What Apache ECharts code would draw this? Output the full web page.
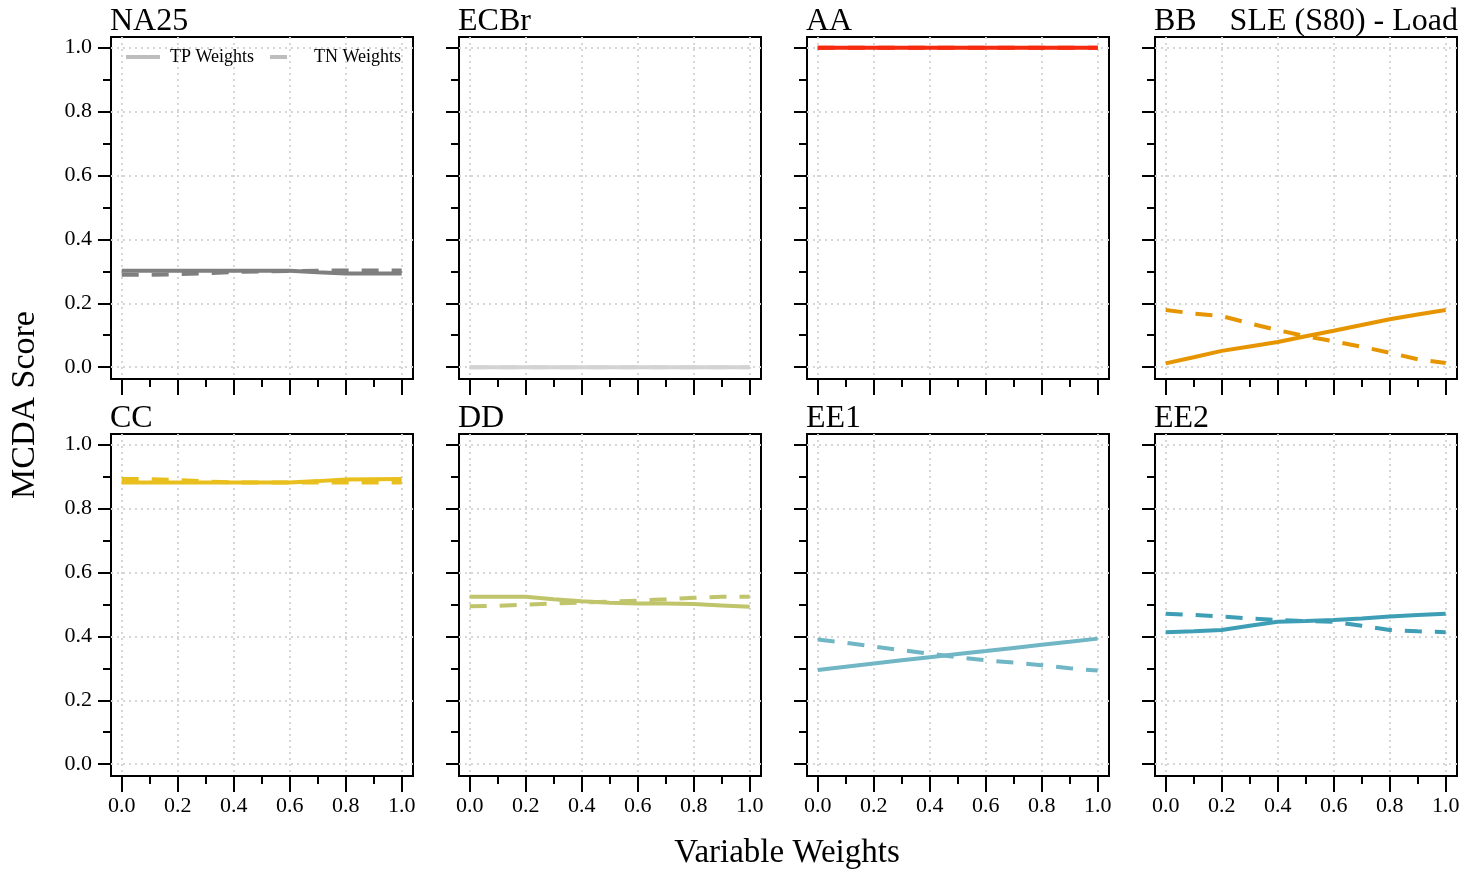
<!DOCTYPE html>
<html><head><meta charset="utf-8">
<script src="https://cdn.jsdelivr.net/npm/echarts@6/dist/echarts.min.js"></script>
<style>html,body{margin:0;padding:0;background:#fff}#chart{width:1470px;height:872px}</style>
</head><body><div id="chart"></div>
<script>
// ---- data ----
const weights = [0, 0.1, 0.2, 0.3, 0.4, 0.5, 0.6, 0.7, 0.8, 0.9, 1.0];
const majorTicks = [0, 0.2, 0.4, 0.6, 0.8, 1.0];
const minorTicks = [0.1, 0.3, 0.5, 0.7, 0.9];
const panelNames = ['NA25', 'ECBr', 'AA', 'BB', 'CC', 'DD', 'EE1', 'EE2'];
const chartTitle = 'SLE (S80) - Load';
const seriesNames = ['TP Weights', 'TN Weights'];

const na25TP = [0.302, 0.302, 0.302, 0.302, 0.302, 0.302, 0.302, 0.297, 0.293, 0.293, 0.293];
const na25TN = [0.289, 0.289, 0.291, 0.294, 0.298, 0.300, 0.301, 0.302, 0.303, 0.303, 0.303];
const ecbrTP = [0, 0, 0, 0, 0, 0, 0, 0, 0, 0, 0];
const ecbrTN = [0, 0, 0, 0, 0, 0, 0, 0, 0, 0, 0];
const aaTP = [1, 1, 1, 1, 1, 1, 1, 1, 1, 1, 1];
const aaTN = [1, 1, 1, 1, 1, 1, 1, 1, 1, 1, 1];
const bbTP = [0.012, 0.031, 0.051, 0.065, 0.079, 0.097, 0.114, 0.132, 0.150, 0.165, 0.179];
const bbTN = [0.179, 0.168, 0.160, 0.137, 0.116, 0.097, 0.081, 0.064, 0.045, 0.025, 0.013];
const ccTP = [0.882, 0.882, 0.882, 0.882, 0.882, 0.882, 0.882, 0.886, 0.891, 0.892, 0.893];
const ccTN = [0.893, 0.892, 0.889, 0.885, 0.882, 0.882, 0.882, 0.882, 0.882, 0.882, 0.882];
const ddTP = [0.524, 0.524, 0.524, 0.516, 0.510, 0.505, 0.503, 0.503, 0.501, 0.497, 0.493];
const ddTN = [0.494, 0.496, 0.499, 0.503, 0.506, 0.509, 0.512, 0.516, 0.521, 0.524, 0.524];
const ee1TP = [0.295, 0.305, 0.315, 0.325, 0.335, 0.345, 0.354, 0.364, 0.374, 0.383, 0.393];
const ee1TN = [0.390, 0.380, 0.368, 0.357, 0.346, 0.335, 0.325, 0.318, 0.310, 0.300, 0.293];
const ee2TP = [0.413, 0.416, 0.420, 0.433, 0.446, 0.448, 0.451, 0.456, 0.462, 0.467, 0.471];
const ee2TN = [0.471, 0.467, 0.462, 0.456, 0.451, 0.448, 0.446, 0.433, 0.420, 0.416, 0.413];

const tpValues = [na25TP, ecbrTP, aaTP, bbTP, ccTP, ddTP, ee1TP, ee2TP];
const tnValues = [na25TN, ecbrTN, aaTN, bbTN, ccTN, ddTN, ee1TN, ee2TN];
const panelColors = ['#7f7f7f', '#d3d3d3', '#f52a0f', '#e69500', '#e8bf1c', '#c0c46a', '#71b6c5', '#3d9eb6'];

// ---- layout ----
const FONT = '"Liberation Serif", "DejaVu Serif", serif';
const colLefts = [111, 459, 807, 1155];
const rowTops = [37, 434];
const panelW = 302, panelH = 342;
const xMin = -0.0382, xMax = 1.0404;
const yMin = -0.037, yMax = 1.0335;
const dash = [17, 13];

const grids = [], xAxes = [], yAxes = [], series = [], titles = [];
for (let i = 0; i < 8; i++) {
  const r = Math.floor(i / 4), c = i % 4;
  grids.push({left: colLefts[c], top: rowTops[r], width: panelW, height: panelH,
    show: true, borderColor: '#000', borderWidth: 2, backgroundColor: '#fff'});
  titles.push({text: panelNames[i], left: colLefts[c] - 1, top: rowTops[r] - 31, padding: 0,
    textStyle: {fontSize: 32, fontFamily: FONT, fontWeight: 'normal', color: '#000'}});
}
for (let i = 0; i < 8; i++) {
  const r = Math.floor(i / 4), c = i % 4;
  grids.push({left: colLefts[c], top: rowTops[r], width: panelW, height: panelH, show: false});
}
for (let i = 0; i < 8; i++) {
  const r = Math.floor(i / 4), c = i % 4;
  xAxes.push({gridIndex: i, type: 'value', min: xMin, max: xMax, position: 'bottom',
    axisLine: {show: false, onZero: false},
    axisTick: {show: true, customValues: majorTicks, length: 16, lineStyle: {color: '#000', width: 2}},
    axisLabel: {show: r === 1, customValues: majorTicks, formatter: v => v.toFixed(1), margin: 19,
      fontSize: 22, fontFamily: FONT, color: '#000'},
    splitLine: {show: true, lineStyle: {color: '#d6d6d6', width: 2, type: [2, 4]}}});
  yAxes.push({gridIndex: i, type: 'value', min: yMin, max: yMax, position: 'left',
    axisLine: {show: false, onZero: false},
    axisTick: {show: true, customValues: majorTicks, length: 13, lineStyle: {color: '#000', width: 2}},
    axisLabel: {show: c === 0, customValues: majorTicks, formatter: v => v.toFixed(1), margin: 19,
      fontSize: 22, fontFamily: FONT, color: '#000'},
    splitLine: {show: true, lineStyle: {color: '#d6d6d6', width: 2, type: [2, 4]}}});
}
for (let i = 0; i < 8; i++) {
  xAxes.push({gridIndex: 8 + i, type: 'value', min: xMin, max: xMax, position: 'bottom',
    axisLine: {show: false, onZero: false},
    axisTick: {show: true, customValues: minorTicks, length: 8, lineStyle: {color: '#000', width: 2}},
    axisLabel: {show: false}, splitLine: {show: false}});
  yAxes.push({gridIndex: 8 + i, type: 'value', min: yMin, max: yMax, position: 'left',
    axisLine: {show: false, onZero: false},
    axisTick: {show: true, customValues: minorTicks, length: 8, lineStyle: {color: '#000', width: 2}},
    axisLabel: {show: false}, splitLine: {show: false}});
}
for (let i = 0; i < 8; i++) {
  const col = panelColors[i];
  series.push({name: seriesNames[0], type: 'line', xAxisIndex: i, yAxisIndex: i,
    data: weights.map((w, k) => [w, tpValues[i][k]]), symbol: 'none', silent: true,
    lineStyle: {color: col, width: 4, type: 'solid'}, itemStyle: {color: col}});
  series.push({name: seriesNames[1], type: 'line', xAxisIndex: i, yAxisIndex: i,
    data: weights.map((w, k) => [w, tnValues[i][k]]), symbol: 'none', silent: true,
    lineStyle: {color: col, width: 4, type: dash}, itemStyle: {color: col}});
}
titles.push({text: chartTitle, right: 12, top: 6, padding: 0,
  textStyle: {fontSize: 32, fontFamily: FONT, fontWeight: 'normal', color: '#000'}});

const chart = echarts.init(document.getElementById('chart'), null, {renderer: 'canvas'});
chart.setOption({
  animation: false,
  backgroundColor: '#fff',
  title: titles,
  legend: {left: 126, top: 48, padding: 0, itemWidth: 34, itemHeight: 4, itemGap: 16,
    selectedMode: false,
    textStyle: {fontSize: 18, fontFamily: FONT, color: '#000', padding: [0, 0, 0, 5]},
    data: [
      {name: seriesNames[0], icon: 'rect', itemStyle: {color: '#bdbdbd', borderWidth: 0}},
      {name: seriesNames[1], icon: 'path://M0,0H17V4H0ZM33.99,0H34V4H33.99Z', itemStyle: {color: '#bdbdbd', borderWidth: 0}}
    ]},
  grid: grids, xAxis: xAxes, yAxis: yAxes, series: series,
  graphic: [
    {type: 'text', x: 25, y: 405, rotation: Math.PI / 2,
      style: {text: 'MCDA Score', font: '34px ' + FONT, fill: '#000', textAlign: 'center', textVerticalAlign: 'middle'}},
    {type: 'text', x: 787, y: 853,
      style: {text: 'Variable Weights', font: '33px ' + FONT, fill: '#000', textAlign: 'center', textVerticalAlign: 'middle'}}
  ]
});
</script></body></html>
